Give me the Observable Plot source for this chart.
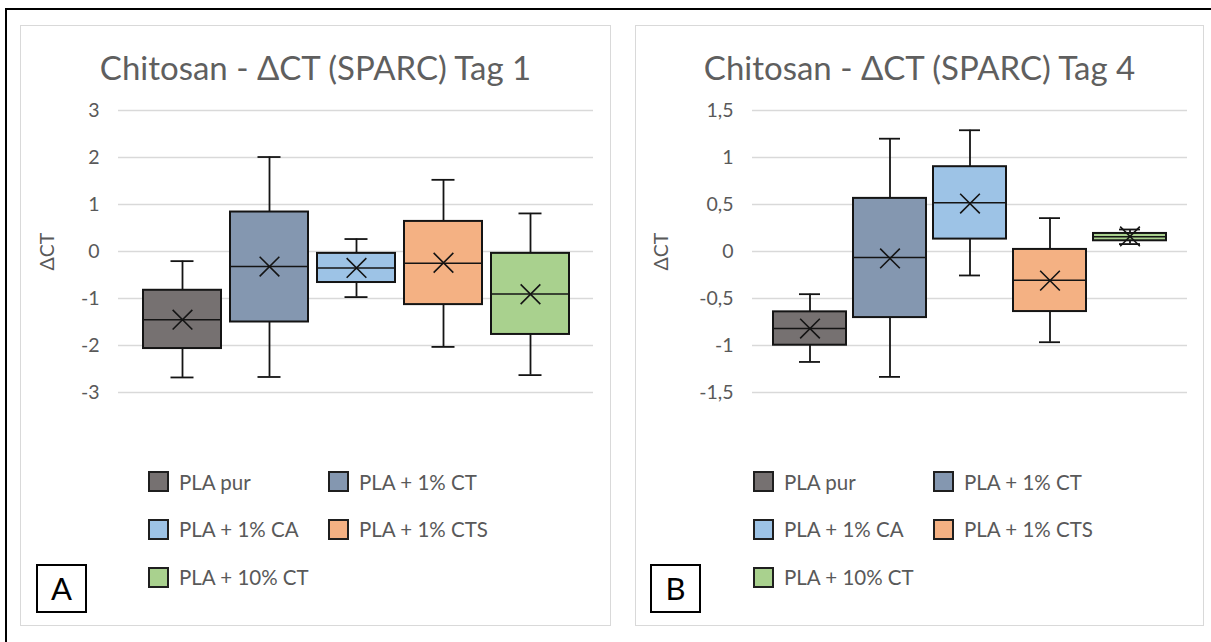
<!DOCTYPE html>
<html><head><meta charset="utf-8">
<script src="https://cdn.jsdelivr.net/npm/d3@7"></script>
<script src="https://cdn.jsdelivr.net/npm/@observablehq/plot@0.6"></script>
<style>
html,body{margin:0;padding:0;width:1211px;height:642px;overflow:hidden;background:#fff;font-family:Lato,"Open Sans",sans-serif;}
#frame{position:absolute;left:5px;top:8px;width:1400px;height:800px;border:2.5px solid #000;box-sizing:border-box;}
.panel{position:absolute;top:25px;height:601px;border:1.5px solid #d9d9d9;box-sizing:border-box;background:#fff;}
.title{position:absolute;top:51px;text-align:center;font-size:33px;font-weight:400;line-height:33px;color:#5f5f5f;white-space:nowrap;}
.chart{position:absolute;top:90px;}
.item{position:absolute;height:21px;display:flex;align-items:center;font-size:20.5px;color:#595959;white-space:nowrap;}
.sw{display:inline-block;width:21px;height:21px;box-sizing:border-box;border:2px solid #1f1f1f;margin-right:10px;}
.tag{position:absolute;top:564px;width:51px;height:49px;border:2px solid #000;box-sizing:border-box;font-size:31px;font-weight:400;line-height:45px;text-align:center;color:#000;}
</style></head>
<body>
<div id="frame"></div>
<div class="panel" style="left:20px;width:591px;"></div>
<div class="panel" style="left:635px;width:569px;"></div>
<div id="root"></div>
<script>
// ---- data ----
const categories = ["PLA pur", "PLA + 1% CT", "PLA + 1% CA", "PLA + 1% CTS", "PLA + 10% CT"];
const colors = ["#767171", "#8497B0", "#9DC3E6", "#F4B183", "#A9D18E"];

// Tag 1 (panel A)
const titleA = "Chitosan - ΔCT (SPARC) Tag 1";
const ticksA = [-3, -2, -1, 0, 1, 2, 3];
const minA    = [-2.68, -2.67, -0.97, -2.03, -2.63];
const q1A     = [-2.065, -1.50, -0.66, -1.13, -1.765];
const medianA = [-1.45, -0.32, -0.35, -0.25, -0.905];
const q3A     = [-0.825, 0.84, -0.04, 0.64, -0.04];
const maxA    = [-0.205, 2.01, 0.265, 1.525, 0.81];
const meanA   = [-1.45, -0.32, -0.35, -0.24, -0.91];

// Tag 4 (panel B)
const titleB = "Chitosan - ΔCT (SPARC) Tag 4";
const ticksB = [-1.5, -1, -0.5, 0, 0.5, 1, 1.5];
const minB    = [-1.175, -1.334, -0.255, -0.965, 0.079];
const q1B     = [-0.997, -0.703, 0.132, -0.639, 0.114];
const medianB = [-0.82, -0.064, 0.519, -0.305, 0.157];
const q3B     = [-0.642, 0.565, 0.902, 0.022, 0.192];
const maxB    = [-0.454, 1.2, 1.29, 0.355, 0.234];
const meanB   = [-0.82, -0.074, 0.51, -0.31, 0.16];

const yLabel = "ΔCT";
const tags = ["A", "B"];

const fmt = d => String(d).replace(".", ",");
const ink = "#141414";

function rowsOf(mn, q1, md, q3, mx, me) {
  return categories.map((c, i) => ({cat: c, min: mn[i], q1: q1[i], median: md[i], q3: q3[i], max: mx[i], mean: me[i]}));
}

function chart({rows, ticks, width, marginLeft, pIn, pOut, capInset, labelOffset}) {
  return Plot.plot({
    width, height: 320,
    marginLeft, marginRight: 17, marginTop: 20, marginBottom: 18,
    style: {fontFamily: "Lato, 'Open Sans', sans-serif", fontSize: "19.5px", color: "#595959", background: "transparent", overflow: "visible"},
    x: {type: "band", domain: categories, paddingInner: pIn, paddingOuter: pOut, axis: null},
    y: {domain: [ticks[0], ticks[ticks.length - 1]], label: yLabel, labelArrow: "none"},
    color: {type: "ordinal", domain: categories, range: colors},
    marks: [
      Plot.gridY(ticks, {stroke: "#d9d9d9", strokeOpacity: 1, strokeWidth: 1.6}),
      Plot.axisY(ticks, {tickSize: 0, tickPadding: 19, tickFormat: fmt, fontSize: 19.5,
        label: yLabel, labelArrow: "none", labelAnchor: "center", labelOffset, fill: "#595959"}),
      Plot.ruleX(rows, {x: "cat", y1: "min", y2: "max", stroke: ink, strokeWidth: 1.8}),
      Plot.tickY(rows, {x: "cat", y: "min", insetLeft: capInset, insetRight: capInset, stroke: ink, strokeWidth: 1.8}),
      Plot.tickY(rows, {x: "cat", y: "max", insetLeft: capInset, insetRight: capInset, stroke: ink, strokeWidth: 1.8}),
      Plot.barY(rows, {x: "cat", y1: "q1", y2: "q3", fill: "cat", stroke: ink, strokeWidth: 2}),
      Plot.tickY(rows, {x: "cat", y: "median", stroke: ink, strokeWidth: 1.5}),
      Plot.dot(rows, {x: "cat", y: "mean", symbol: "times", r: 9, stroke: ink, strokeWidth: 1.6})
    ]
  });
}

const root = document.getElementById("root");
function place(el, left, top) { el.style.position = "absolute"; el.style.left = left + "px"; if (top != null) el.style.top = top + "px"; root.appendChild(el); return el; }

function panel({left, width, title, svg, legX, legX2, tagX, tag}) {
  const t = document.createElement("div");
  t.className = "title"; t.textContent = title; t.style.width = width + "px";
  place(t, left);
  const c = document.createElement("div"); c.className = "chart"; c.appendChild(svg);
  place(c, left, 90);
  const rowsY = [471, 518.5, 566.5];
  categories.forEach((cat, i) => {
    const it = document.createElement("div"); it.className = "item";
    const sw = document.createElement("span"); sw.className = "sw"; sw.style.background = colors[i];
    it.appendChild(sw); it.appendChild(document.createTextNode(cat));
    place(it, i % 2 === 0 ? legX : legX2, rowsY[Math.floor(i / 2)]);
  });
  const g = document.createElement("div"); g.className = "tag"; g.textContent = tag;
  place(g, tagX);
}

panel({left: 20, width: 591, title: titleA, tag: tags[0], legX: 148, legX2: 328, tagX: 36,
  svg: chart({rows: rowsOf(minA, q1A, medianA, q3A, maxA, meanA), ticks: ticksA, width: 590, marginLeft: 98,
    pIn: 0.109, pOut: 0.269, capInset: 27.5, labelOffset: 78})});
panel({left: 635, width: 569, title: titleB, tag: tags[1], legX: 753, legX2: 933, tagX: 650,
  svg: chart({rows: rowsOf(minB, q1B, medianB, q3B, maxB, meanB), ticks: ticksB, width: 569, marginLeft: 117,
    pIn: 0.0875, pOut: 0.2625, capInset: 26, labelOffset: 98})});
</script>
</body></html>
